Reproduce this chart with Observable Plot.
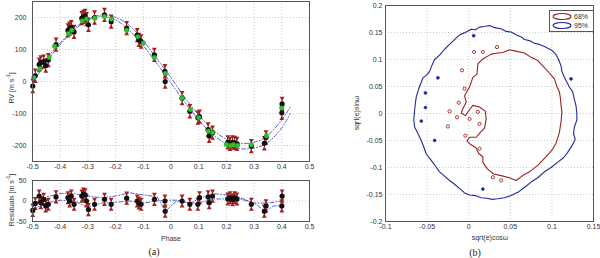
<!DOCTYPE html>
<html>
<head>
<meta charset="utf-8">
<script src="https://cdn.jsdelivr.net/npm/d3@7"></script>
<script src="https://cdn.jsdelivr.net/npm/@observablehq/plot@0.6"></script>
<style>
  body { margin: 0; background: white; }
  #root { position: relative; width: 600px; height: 258px; overflow: hidden; font-family: "Liberation Sans", Arial, sans-serif; color: #333; }
  .lbl { position: absolute; font-size: 7px; white-space: nowrap; color: #333; }
  .rot { transform: translate(-50%, -50%) rotate(-90deg); }
  .ctr { transform: translate(-50%, -50%); }
  .cap { position: absolute; font-family: "Liberation Serif", serif; font-size: 10px; transform: translate(-50%, -50%); color: #222; }
  #legend { position: absolute; left: 549px; top: 10px; width: 43px; height: 20px; border: 1px solid #555; background: white; }
</style>
</head>
<body>
<div id="root"></div>
<script>
// ---------- Panel (a): RV data ----------
const phase = [-0.499,-0.49,-0.476,-0.47,-0.46,-0.452,-0.443,-0.415,-0.372,-0.366,-0.36,-0.35,-0.322,-0.316,-0.31,-0.305,-0.298,-0.276,-0.24,-0.216,-0.16,-0.122,-0.116,-0.108,-0.06,-0.022,-0.021,0.04,0.068,0.097,0.103,0.134,0.138,0.15,0.205,0.213,0.222,0.23,0.238,0.29,0.337,0.343,0.4,0.401];
const rv     = [-14,18,53,60,62,50,67,115,160,165,170,155,198,202,205,195,177,200,208,187,167,145,130,125,83,32,0,-52,-93,-113,-110,-150,-170,-160,-190,-195,-190,-192,-195,-202,-193,-175,-98,-70];
const resid  = [-23,-6,12,-4,4,-12,-8,10,8,0,12,-8,12,17,15,0,-21,-8,4,-8,7,0,-5,-8,4,0,-25,0,-8,-8,8,10,-4,12,5,8,3,8,5,-8,-25,-12,-12,12];
const rvErr = 18;

const greenPhase = [-0.495,-0.473,-0.44,-0.42,-0.37,-0.358,-0.32,-0.305,-0.275,-0.24,-0.215,-0.16,-0.12,-0.1,-0.06,-0.02,0.04,0.07,0.1,0.135,0.15,0.2,0.215,0.225,0.24,0.29,0.345,0.4];
const greenRV    = [12,40,75,110,150,160,190,195,198,203,195,160,140,120,75,25,-52,-88,-113,-155,-160,-197,-200,-197,-200,-198,-170,-83];

const modelPhase = [-0.5,-0.45,-0.4,-0.35,-0.3,-0.25,-0.2,-0.15,-0.1,-0.05,0,0.05,0.1,0.15,0.2,0.25,0.3,0.35,0.4,0.43];
const modelA     = [5,70,120,165,195,208,200,175,128,70,12,-50,-105,-150,-180,-193,-190,-168,-120,-80];
const modelB     = [-5,60,115,160,192,203,192,160,112,55,-5,-65,-120,-165,-195,-210,-208,-190,-145,-100];

const residLineA = [[-0.49,-10],[-0.45,10],[-0.4,18],[-0.35,18],[-0.3,12],[-0.25,8],[-0.2,12],[-0.15,20],[-0.1,15],[-0.05,10],[-0.02,-25],[0.02,0],[0.07,-5],[0.1,5],[0.15,18],[0.2,15],[0.25,8],[0.3,-5],[0.34,-25],[0.37,-12],[0.4,-12]];
const residLineB = [[-0.5,-20],[-0.45,-5],[-0.4,2],[-0.35,0],[-0.3,-15],[-0.25,-5],[-0.2,-3],[-0.15,0],[-0.1,-5],[-0.05,0],[-0.02,2],[0.02,2],[0.07,-5],[0.1,-5],[0.15,5],[0.2,5],[0.25,5],[0.3,-5],[0.35,-5],[0.4,0],[0.41,12]];

const phaseTicks = [-0.5,-0.4,-0.3,-0.2,-0.1,0,0.1,0.2,0.3,0.4,0.5];
const rvTicks = [200,100,0,-100,-200];
const residTicks = [50,0,-50];

// ---------- Panel (b): contour data ----------
const contour95 = [[-0.009,0.147],[-0.004,0.150],[0.003,0.156],[0.008,0.155],[0.013,0.160],[0.019,0.161],[0.025,0.163],[0.031,0.159],[0.039,0.157],[0.045,0.152],[0.051,0.151],[0.058,0.145],[0.064,0.141],[0.067,0.137],[0.073,0.135],[0.079,0.130],[0.085,0.128],[0.091,0.124],[0.095,0.121],[0.100,0.117],[0.105,0.109],[0.108,0.100],[0.111,0.088],[0.112,0.078],[0.115,0.067],[0.118,0.058],[0.121,0.049],[0.125,0.040],[0.127,0.026],[0.129,0.014],[0.130,0.000],[0.130,-0.012],[0.127,-0.025],[0.126,-0.037],[0.128,-0.048],[0.124,-0.060],[0.119,-0.072],[0.114,-0.082],[0.107,-0.090],[0.099,-0.100],[0.091,-0.108],[0.083,-0.119],[0.075,-0.127],[0.067,-0.137],[0.059,-0.146],[0.051,-0.152],[0.043,-0.156],[0.035,-0.158],[0.028,-0.159],[0.022,-0.157],[0.015,-0.156],[0.008,-0.152],[0.001,-0.151],[-0.005,-0.147],[-0.010,-0.140],[-0.017,-0.131],[-0.023,-0.124],[-0.029,-0.116],[-0.035,-0.108],[-0.041,-0.095],[-0.046,-0.085],[-0.051,-0.075],[-0.054,-0.062],[-0.057,-0.050],[-0.061,-0.037],[-0.065,-0.025],[-0.066,-0.012],[-0.065,0.006],[-0.064,0.020],[-0.063,0.031],[-0.061,0.041],[-0.059,0.050],[-0.057,0.058],[-0.055,0.066],[-0.050,0.072],[-0.047,0.078],[-0.044,0.090],[-0.041,0.100],[-0.035,0.108],[-0.029,0.119],[-0.023,0.128],[-0.017,0.137],[-0.013,0.143]];
const contour68 = [[0.027,0.110],[0.035,0.112],[0.041,0.113],[0.049,0.118],[0.058,0.115],[0.067,0.112],[0.075,0.104],[0.083,0.098],[0.091,0.085],[0.097,0.075],[0.103,0.064],[0.106,0.05],[0.109,0.04],[0.110,0.031],[0.111,0.015],[0.112,0.002],[0.111,-0.015],[0.109,-0.035],[0.105,-0.055],[0.1,-0.068],[0.093,-0.08],[0.083,-0.096],[0.073,-0.108],[0.065,-0.115],[0.057,-0.124],[0.049,-0.119],[0.039,-0.115],[0.030,-0.112],[0.022,-0.102],[0.017,-0.09],[0.017,-0.08],[0.012,-0.074],[0.009,-0.064],[0.002,-0.057],[-0.002,-0.051],[0.001,-0.044],[0.009,-0.044],[0.014,-0.035],[0.019,-0.027],[0.021,-0.010],[0.020,0.004],[0.013,0.012],[0.005,0.015],[0.001,0.007],[-0.004,-0.004],[-0.009,0.001],[-0.007,0.009],[-0.003,0.021],[-0.005,0.033],[0.001,0.049],[0.005,0.067],[0.010,0.073],[0.011,0.092],[0.017,0.101]];
const islands68 = [[0.034,0.123],[0.0065,0.114],[0.017,0.114],[-0.008,0.080],[-0.005,0.046],[-0.012,0.02],[-0.023,0.004],[-0.014,-0.007],[0.001,-0.010],[0.011,0.003],[0.013,-0.019],[-0.025,-0.024],[-0.004,-0.041],[0.013,-0.065],[0.029,-0.118],[0.039,-0.124]];
const islands95 = [[0.006,0.144],[-0.037,0.066],[-0.052,0.038],[-0.052,0.011],[-0.057,-0.014],[-0.041,-0.05],[0.017,-0.14],[0.123,0.064]];
const cosTicks = [-0.1,-0.05,0,0.05,0.1,0.15];
const sinTicks = [0.2,0.15,0.1,0.05,0,-0.05,-0.1,-0.15,-0.2];

// ---------- colours & styles ----------
const RED = "#a3201f", BLACK = "#111", GREEN = "#2fc42f", BLUE = "#4a52c8";
const C68 = "#9b2222", C95 = "#1f2a9a";
const GRID = {stroke: "#aaa", strokeOpacity: 1, strokeDasharray: "1,2", strokeWidth: 0.6};
const FONT = 7;
const fmt = d => String(d);
const baseStyle = {background: "none", overflow: "visible", fontFamily: "Liberation Sans, Arial, sans-serif", fontSize: FONT + "px", color: "#333"};

// tables built from arrays
const pts = phase.map((p, i) => ({p, rv: rv[i], res: resid[i]}));
const greens = greenPhase.map((p, i) => ({p, rv: greenRV[i]}));
const models = modelPhase.flatMap((p, i) => [{p, v: modelA[i], k: "A"}, {p, v: modelB[i], k: "B"}]);
const resLines = [...residLineA.map(([p, v]) => ({p, v, k: "A"})), ...residLineB.map(([p, v]) => ({p, v, k: "B"}))];

const root = document.getElementById("root");
function place(el, left, top) {
  el.style.position = "absolute";
  el.style.left = left + "px";
  el.style.top = top + "px";
  root.appendChild(el);
}

// ---------- Panel (a) top: RV ----------
const plotRV = Plot.plot({
  width: 315, height: 176, marginLeft: 32, marginRight: 6, marginTop: 1, marginBottom: 15,
  style: baseStyle,
  x: {domain: [-0.5, 0.5]},
  y: {domain: [-250, 250]},
  marks: [
    Plot.gridX(phaseTicks, GRID),
    Plot.gridY(rvTicks, GRID),
    Plot.line(models, {x: "p", y: "v", z: "k", curve: "natural", stroke: BLUE, strokeWidth: 0.9, strokeDasharray: "4,2,1,2"}),
    Plot.ruleX(pts, {x: "p", y1: d => d.rv - rvErr, y2: d => d.rv + rvErr, stroke: RED, strokeWidth: 1}),
    Plot.dot(pts, {x: "p", y: d => d.rv + rvErr, symbol: "triangle", r: 1.8, fill: RED, rotate: 180}),
    Plot.dot(pts, {x: "p", y: d => d.rv - rvErr, symbol: "triangle", r: 1.8, fill: RED}),
    Plot.dot(pts, {x: "p", y: "rv", r: 2.6, fill: BLACK}),
    Plot.dot(greens, {x: "p", y: "rv", r: 2.3, fill: GREEN, stroke: "#1a9a1a", strokeWidth: 0.5}),
    Plot.frame({stroke: "#555", strokeWidth: 1}),
    Plot.axisX(phaseTicks, {tickSize: 0, tickPadding: 3, tickFormat: fmt, label: null, fontSize: FONT}),
    Plot.axisY(rvTicks, {tickSize: 0, tickPadding: 6, tickFormat: fmt, label: null, fontSize: FONT})
  ]
});
place(plotRV, 0, 0);

// ---------- Panel (a) bottom: residuals ----------
const plotRes = Plot.plot({
  width: 315, height: 62, marginLeft: 32, marginRight: 6, marginTop: 10, marginBottom: 11,
  style: baseStyle,
  x: {domain: [-0.5, 0.5]},
  y: {domain: [-50, 50]},
  marks: [
    Plot.gridX(phaseTicks, GRID),
    Plot.gridY(residTicks, GRID),
    Plot.line(resLines, {x: "p", y: "v", z: "k", stroke: BLUE, strokeWidth: 0.9, strokeDasharray: "4,2,1,2"}),
    Plot.ruleX(pts, {x: "p", y1: d => d.res - rvErr * 0.7, y2: d => d.res + rvErr * 0.7, stroke: RED, strokeWidth: 1}),
    Plot.dot(pts, {x: "p", y: d => d.res + rvErr * 0.7, symbol: "triangle", r: 1.8, fill: RED, rotate: 180}),
    Plot.dot(pts, {x: "p", y: d => d.res - rvErr * 0.7, symbol: "triangle", r: 1.8, fill: RED}),
    Plot.dot(pts, {x: "p", y: "res", r: 2.6, fill: BLACK}),
    Plot.frame({stroke: "#555", strokeWidth: 1}),
    Plot.axisX(phaseTicks, {tickSize: 0, tickPadding: 3, tickFormat: fmt, label: null, fontSize: FONT}),
    Plot.axisY(residTicks, {tickSize: 0, tickPadding: 6, tickFormat: fmt, label: null, fontSize: FONT})
  ]
});
place(plotRes, 0, 170);

// ---------- Panel (b): contours ----------
const c95 = [...contour95, contour95[0]].map(([x, y]) => ({x, y}));
const c68 = [...contour68, contour68[0]].map(([x, y]) => ({x, y}));
const plotCont = Plot.plot({
  width: 260, height: 235, marginLeft: 45, marginRight: 7, marginTop: 5, marginBottom: 14,
  style: baseStyle,
  x: {domain: [-0.1, 0.15]},
  y: {domain: [-0.2, 0.2]},
  marks: [
    Plot.gridX(cosTicks, GRID),
    Plot.gridY(sinTicks, GRID),
    Plot.line(c95, {x: "x", y: "y", stroke: C95, strokeWidth: 1.1}),
    Plot.line(c68, {x: "x", y: "y", stroke: C68, strokeWidth: 1.1}),
    Plot.dot(islands95, {x: d => d[0], y: d => d[1], r: 1.4, stroke: C95, fill: C95, strokeWidth: 0.8}),
    Plot.dot(islands68, {x: d => d[0], y: d => d[1], r: 1.6, stroke: C68, fill: "none", strokeWidth: 0.9}),
    Plot.frame({stroke: "#555", strokeWidth: 1}),
    Plot.axisX(cosTicks, {tickSize: 0, tickPadding: 3, tickFormat: fmt, label: null, fontSize: FONT}),
    Plot.axisY(sinTicks, {tickSize: 0, tickPadding: 3, tickFormat: fmt, label: null, fontSize: FONT})
  ]
});
place(plotCont, 340, 0);

// ---------- labels ----------
function label(html, x, y, cls) {
  const d = document.createElement("div");
  d.className = cls;
  d.innerHTML = html;
  d.style.left = x + "px";
  d.style.top = y + "px";
  root.appendChild(d);
}
label("RV [m s<sup style='font-size:5px'>-1</sup>]", 10, 88, "lbl rot");
label("Residuals [m s<sup style='font-size:5px'>-1</sup>]", 10, 200, "lbl rot");
label("Phase", 171, 238, "lbl ctr");
label("sqrt(e)cosω", 490, 237, "lbl ctr");
label("sqrt(e)sinω", 356, 113, "lbl rot");
label("(a)", 154, 251, "cap");
label("(b)", 475, 252, "cap");

// legend
const leg = document.createElement("div");
leg.id = "legend";
leg.innerHTML = `<svg width="43" height="20" style="position:absolute;left:0;top:0">
  <ellipse cx="12" cy="5.5" rx="9" ry="3" fill="none" stroke="${C68}" stroke-width="1.1"></ellipse>
  <ellipse cx="12" cy="14.5" rx="9" ry="3" fill="none" stroke="${C95}" stroke-width="1.1"></ellipse>
  <text x="24" y="8" font-size="7" fill="#333" font-family="Liberation Sans, Arial">68%</text>
  <text x="24" y="17" font-size="7" fill="#333" font-family="Liberation Sans, Arial">95%</text>
</svg>`;
root.appendChild(leg);
</script>
</body>
</html>
